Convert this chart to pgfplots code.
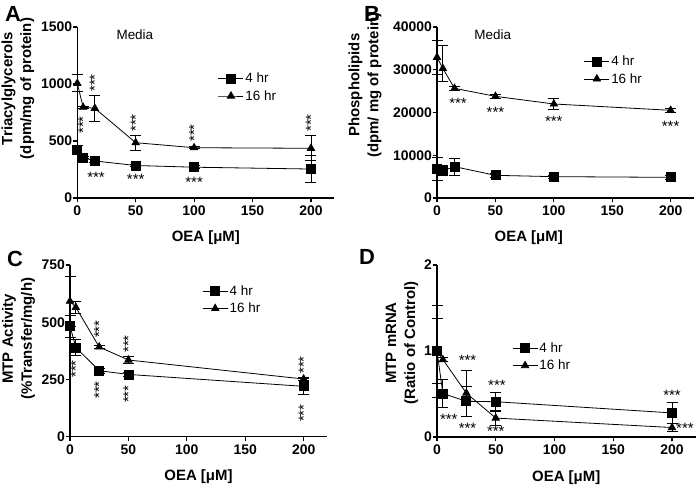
\documentclass[border=0pt]{standalone}
\usepackage{fontspec}
\setmainfont{Liberation Sans}
\usepackage{pgfplots}
\pgfplotsset{compat=1.18}

\tikzset{stars/.style={font=\fontsize{15}{17}\selectfont, inner sep=0pt}}
\pgfplotsset{
  gp/.style={
    scale only axis, width=257bp, height=171bp,
    axis lines*=left, axis line style={line width=1.2bp, -},
    xmin=0, xmax=220, ymin=0,
    xtick={0,50,100,150,200},
    tick align=outside, major tick length=4.5bp,
    tick style={line width=1.2bp, black},
    clip=false,
    /pgf/number format/assume math mode=true,
    /pgf/number format/1000 sep={},
    scaled y ticks=false,
    tick label style={font=\fontsize{14}{16}\selectfont\bfseries},
    yticklabel style={inner sep=0.5bp},
    xticklabel style={inner sep=3bp},
    label style={font=\fontsize{15}{19}\selectfont\bfseries, align=center},
    xlabel={OEA [μM]},
    legend cell align=left,
    legend image code/.code={\draw[mark repeat=2,mark phase=2,##1] plot coordinates {(0bp,0bp) (12.5bp,0bp) (25bp,0bp)};},
    legend style={draw=none, fill=none, font=\fontsize{13.5}{15}\selectfont, anchor=north west, inner sep=0pt, row sep=3bp, nodes={inner sep=1.5bp}},
    error bars/y dir=both, error bars/y explicit,
    error bars/error bar style={line width=0.8bp, black},
    error bars/error mark options={rotate=90, mark size=5.5bp, line width=0.8bp, black},
  },
  s4/.style={black, line width=0.8bp, mark=square*, mark size=4.5bp, mark options={solid, fill=black}},
  s16/.style={black, line width=0.8bp, mark=triangle*, mark size=4.2bp, mark options={solid, fill=black}},
}

\begin{document}
\begin{tikzpicture}[x=1bp,y=1bp]
\useasboundingbox (0,0) rectangle (697,485);

% ---------------- A ----------------
\begin{axis}[gp, at={(77.3bp,287bp)}, ymax=1500, ytick={0,500,1000,1500},
  ylabel={Triacylglycerols\\(dpm/mg of protein)},
  ylabel style={at={(axis description cs:-0.231,0.64)}, anchor=center},
  xlabel style={at={(axis description cs:0.5,-0.234)}, anchor=center},
  legend style={at={(axis description cs:0.547,0.74)}}]
\addplot[s4] coordinates {(0,421) +- (0,40) (5,354) +- (0,10) (15,325) +- (0,12) (50,285) +- (0,12) (100,270) +- (0,12) (200,254) +- (0,117)};
\addlegendentry{4 hr}
\addplot[s16] coordinates {(0,1006) +- (0,75) (5,796) +- (0,10) (15,787) +- (0,112) (50,485) +- (0,67) (100,441) +- (0,10) (200,436) +- (0,110)};
\addlegendentry{16 hr}
\node[font=\fontsize{13.5}{16}\selectfont] at (axis description cs:0.224,0.953) {Media};
\node[stars, rotate=90] at (axis cs:5,640) {***};
\node[stars, rotate=90] at (axis cs:15,1009) {***};
\node[stars, rotate=90] at (axis cs:50,658) {***};
\node[stars, rotate=90] at (axis cs:100,570) {***};
\node[stars, rotate=90] at (axis cs:200,658) {***};
\node[stars] at (axis cs:16,184) {***};
\node[stars] at (axis cs:50,167) {***};
\node[stars] at (axis cs:100,140) {***};
\end{axis}

% ---------------- B ----------------
\begin{axis}[gp, at={(437bp,287bp)}, ymax=40000, ytick={0,10000,20000,30000,40000},
  ylabel={Phospholipids\\(dpm/ mg of protein)},
  ylabel style={at={(axis description cs:-0.28,0.66)}, anchor=center},
  xlabel style={at={(axis description cs:0.357,-0.234)}, anchor=center},
  legend style={at={(axis description cs:0.571,0.84)}}]
\addplot[s4] coordinates {(0,6860) +- (0,2700) (5,6400) +- (0,1200) (15,7330) +- (0,2000) (50,5300) +- (0,500) (100,4990) +- (0,300) (200,4830) +- (0,400)};
\addlegendentry{4 hr}
\addplot[s16] coordinates {(0,32900) +- (0,3900) (5,30300) += (0,5300) -= (0,2950) (15,25650) +- (0,400) (50,23780) +- (0,400) (100,21990) +- (0,1350) (200,20510) +- (0,400)};
\addlegendentry{16 hr}
\node[font=\fontsize{13.5}{16}\selectfont] at (axis description cs:0.217,0.953) {Media};
\node[stars] at (axis cs:18,22220) {***};
\node[stars] at (axis cs:50,19950) {***};
\node[stars] at (axis cs:100,17850) {***};
\node[stars] at (axis cs:200,16680) {***};
\end{axis}

% ---------------- C ----------------
\begin{axis}[gp, at={(70bp,48.3bp)}, height=171.7bp, ymax=750, ytick={0,250,500,750},
  ylabel={MTP Activity\\(\%Transfer/mg/h)},
  ylabel style={at={(axis description cs:-0.2,0.57)}, anchor=center},
  xlabel style={at={(axis description cs:0.5,-0.234)}, anchor=center},
  legend style={at={(axis description cs:0.514,0.89)}}]
\addplot[s4] coordinates {(0,483) +- (0,48) (5,390) +- (0,35) (25,288) +- (0,10) (50,272) +- (0,10) (200,220) +- (0,35)};
\addlegendentry{4 hr}
\addplot[s16] coordinates {(0,592) +- (0,110) (5,565) +- (0,27) (25,392) +- (0,8) (50,335) +- (0,14) (200,252) +- (0,8)};
\addlegendentry{16 hr}
\node[stars, rotate=90] at (axis cs:5,296) {***};
\node[stars, rotate=90] at (axis cs:25,470) {***};
\node[stars, rotate=90] at (axis cs:25,204) {***};
\node[stars, rotate=90] at (axis cs:50,405) {***};
\node[stars, rotate=90] at (axis cs:50,186) {***};
\node[stars, rotate=90] at (axis cs:200,313) {***};
\node[stars, rotate=90] at (axis cs:200,103) {***};
\end{axis}

% ---------------- D ----------------
\begin{axis}[gp, at={(437bp,48bp)}, width=258.5bp, height=172bp, ymax=2, ytick={0,1,2},
  ylabel={MTP mRNA\\(Ratio of Control)},
  ylabel style={at={(axis description cs:-0.135,0.547)}, anchor=center},
  xlabel style={at={(axis description cs:0.5,-0.234)}, anchor=center},
  legend style={at={(axis description cs:0.29,0.558)}}]
\addplot[s4] coordinates {(0,1) +- (0,0.375) (5,0.505) +- (0,0.165) (25,0.415) +- (0,0.17) (50,0.41) +- (0,0.11) (200,0.28) +- (0,0.12)};
\addlegendentry{4 hr}
\addplot[s16] coordinates {(0,1) +- (0,0.535) (5,0.90) +- (0,0.02) (25,0.51) +- (0,0.27) (50,0.22) +- (0,0.085) (200,0.11) +- (0,0.05)};
\addlegendentry{16 hr}
\node[stars] at (axis cs:10,0.20) {***};
\node[stars] at (axis cs:26,0.89) {***};
\node[stars] at (axis cs:26,0.10) {***};
\node[stars] at (axis cs:51,0.60) {***};
\node[stars] at (axis cs:50,0.06) {***};
\node[stars] at (axis cs:200,0.48) {***};
\node[stars] at (axis cs:211,0.10) {***};
\end{axis}

\node[font=\fontsize{22}{24}\selectfont\bfseries] at (13bp,471bp) {A};
\node[font=\fontsize{22}{24}\selectfont\bfseries] at (372bp,471bp) {B};
\node[font=\fontsize{22}{24}\selectfont\bfseries] at (15bp,226bp) {C};
\node[font=\fontsize{22}{24}\selectfont\bfseries] at (367bp,228bp) {D};
\end{tikzpicture}
\end{document}
